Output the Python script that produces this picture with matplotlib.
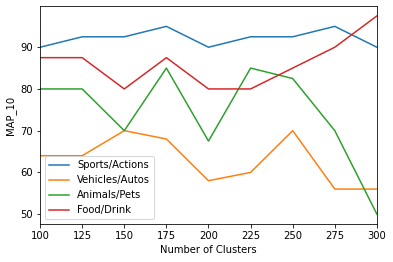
import matplotlib
matplotlib.use('Agg')
import matplotlib.pyplot as plt

clusters = [100, 125, 150, 175, 200, 225, 250, 275, 300]
sports = [90, 92.5, 92.5, 95, 90, 92.5, 92.5, 95, 90]
vehicles = [64, 64, 70, 68, 58, 60, 70, 56, 56]
animals = [80, 80, 70, 85, 67.5, 85, 82.5, 70, 50]
food = [87.5, 87.5, 80, 87.5, 80, 80, 85, 90, 97.5]

fig = plt.figure(figsize=(393 / 72, 262 / 72), dpi=72)
plt.plot(clusters, sports, label='Sports/Actions')
plt.plot(clusters, vehicles, label='Vehicles/Autos')
plt.plot(clusters, animals, label='Animals/Pets')
plt.plot(clusters, food, label='Food/Drink')

plt.xlim(100, 300)
plt.xticks(clusters)
plt.xlabel('Number of Clusters')
plt.ylabel('MAP_10')
plt.legend(loc='lower left')
plt.subplots_adjust(left=0.102, right=0.959, top=0.977, bottom=0.145)

plt.savefig('out.png', dpi=72)
